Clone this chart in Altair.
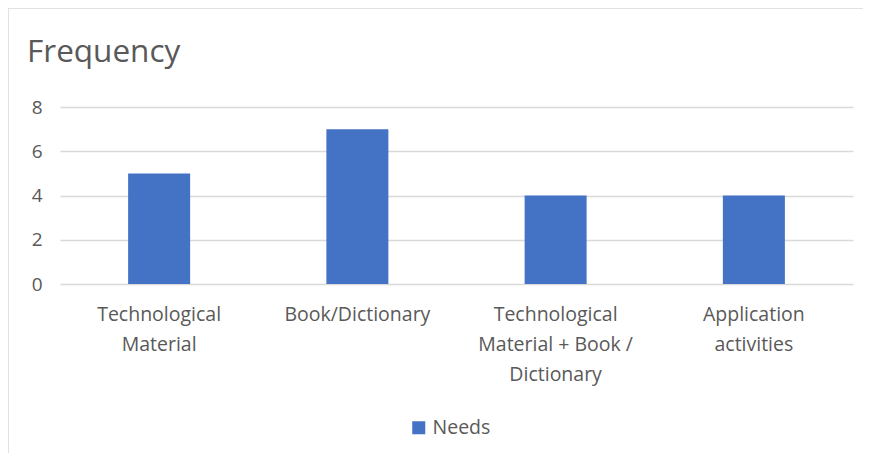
import altair as alt
import pandas as pd

categories = [
    "Technological\nMaterial",
    "Book/Dictionary",
    "Technological\nMaterial + Book /\nDictionary",
    "Application\nactivities",
]
values = [5, 7, 4, 4]
series = ["Needs"] * 4
chart_title = "Frequency"

df = pd.DataFrame({"category": categories, "value": values, "series": series})

FONT = "Open Sans"
GREY = "#595959"
BORDER = "#d9d9d9"

one = pd.DataFrame({"a": [0]})
top_border = alt.Chart(one).mark_rule(stroke=BORDER, strokeWidth=1.5).encode(
    x=alt.value(-52), x2=alt.value(900), y=alt.value(-99)
)
left_border = alt.Chart(one).mark_rule(stroke=BORDER, strokeWidth=1.5).encode(
    x=alt.value(-52), y=alt.value(-99), y2=alt.value(500)
)

title_text = alt.Chart(pd.DataFrame({"t": [chart_title]})).mark_text(
    align="left", baseline="alphabetic", fontSize=31.5, font=FONT, color=GREY
).encode(x=alt.value(-33), y=alt.value(-45), text="t:N")

bars = alt.Chart(df).mark_bar(size=62).encode(
    x=alt.X(
        "category:N",
        sort=categories,
        title=None,
        scale=alt.Scale(paddingInner=0.69, paddingOuter=0.345),
        axis=alt.Axis(
            labelAngle=0,
            labelExpr="split(datum.label, '\\n')",
            labelLineHeight=30,
            labelFontSize=19.5,
            labelColor=GREY,
            labelFont=FONT,
            labelPadding=21,
            ticks=False,
            domain=False,
            labelBaseline="top",
        ),
    ),
    y=alt.Y(
        "value:Q",
        title=None,
        scale=alt.Scale(domain=[0, 8]),
        axis=alt.Axis(
            values=[0, 2, 4, 6, 8],
            labelFontSize=19,
            labelColor=GREY,
            labelFont=FONT,
            labelPadding=18,
            ticks=False,
            domain=False,
            grid=True,
            gridColor=BORDER,
            gridWidth=1.5,
        ),
    ),
    color=alt.Color(
        "series:N",
        scale=alt.Scale(range=["#4472C4"]),
        legend=alt.Legend(
            title=None,
            orient="none",
            legendX=349,
            legendY=311,
            symbolType="square",
            symbolSize=169,
            symbolStrokeWidth=0,
            labelFontSize=19.5,
            labelColor=GREY,
            labelFont=FONT,
            labelOffset=4,
        ),
    ),
)

chart = alt.layer(top_border, left_border, title_text, bars).properties(
    width=793,
    height=177,
    padding={"left": 52, "top": 99, "right": 10, "bottom": 169},
    autosize=alt.AutoSizeParams(type="none"),
).configure_view(stroke=None)

chart.save("out.html", embed_options={"renderer": "svg", "actions": False})
